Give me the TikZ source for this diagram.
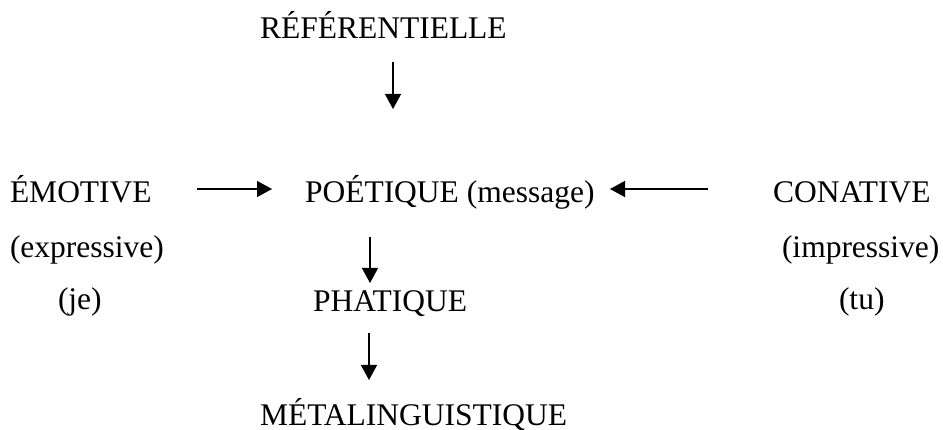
\documentclass[tikz,border=0pt]{standalone}
\usepackage{fontspec}
\setmainfont{Liberation Serif}
\usetikzlibrary{arrows.meta}

\tikzset{
  lbl/.style={inner sep=0pt, outer sep=0pt, anchor=base west,
              font=\fontsize{31.5}{36}\selectfont},
  fleche/.style={line width=1.3pt,
                 -{Triangle[length=15pt,width=16pt]}}
}

\begin{document}
\begin{tikzpicture}[x=1pt,y=-1pt]
  \useasboundingbox (0,0) rectangle (943,430);

  % function labels
  \node[lbl] (ref)   at (260,39)  {RÉFÉRENTIELLE};
  \node[lbl] (emo)   at (10,203)  {ÉMOTIVE};
  \node[lbl] (expr)  at (10,258)  {(expressive)};
  \node[lbl] (je)    at (58,310)  {(je)};
  \node[lbl] (poe)   at (305,203) {POÉTIQUE (message)};
  \node[lbl] (con)   at (773,203) {CONATIVE};
  \node[lbl] (impr)  at (782,258) {(impressive)};
  \node[lbl] (tu)    at (839,310) {(tu)};
  \node[lbl] (pha)   at (313,312) {PHATIQUE};
  \node[lbl] (meta)  at (260,425) {MÉTALINGUISTIQUE};

  % arrow end points
  \coordinate (r1) at (393,62);  \coordinate (r2) at (393,109);
  \coordinate (e1) at (197,189); \coordinate (e2) at (272,189);
  \coordinate (c1) at (708,189); \coordinate (c2) at (610,189);
  \coordinate (p1) at (370,237); \coordinate (p2) at (370,283);
  \coordinate (m1) at (369,333); \coordinate (m2) at (369,380);

  % arrows
  \draw[fleche] (r1) -- (r2);
  \draw[fleche] (e1) -- (e2);
  \draw[fleche] (c1) -- (c2);
  \draw[fleche] (p1) -- (p2);
  \draw[fleche] (m1) -- (m2);
\end{tikzpicture}
\end{document}
